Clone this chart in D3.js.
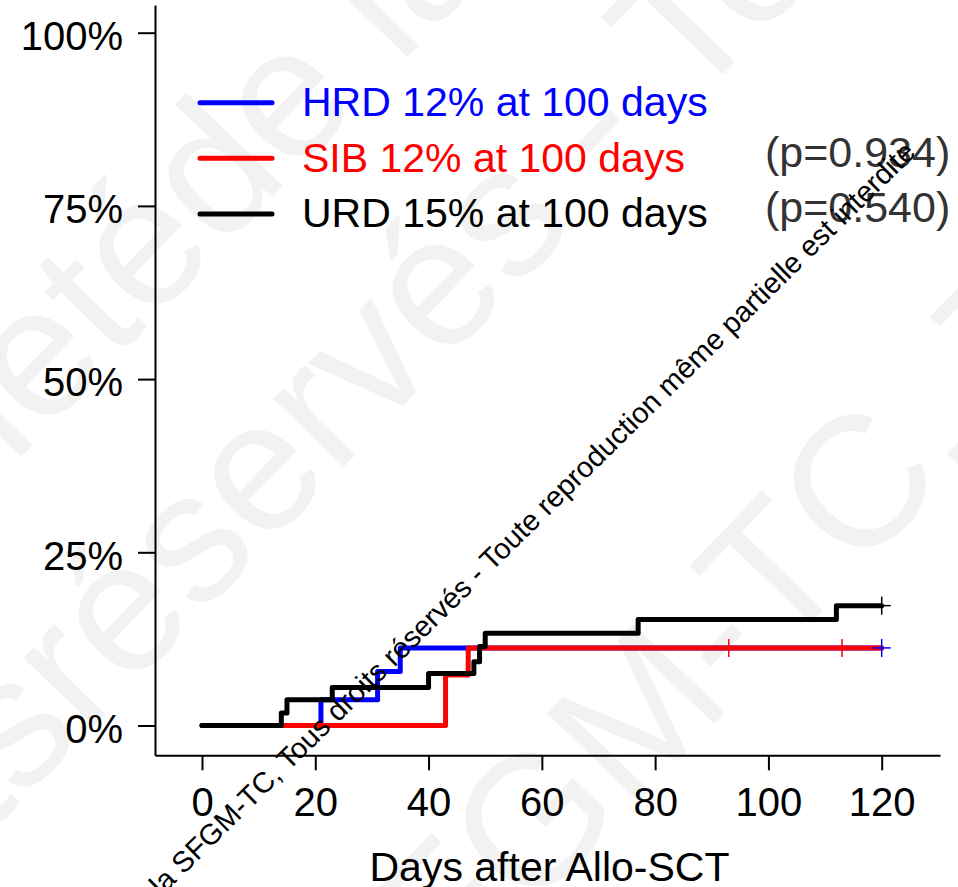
<!DOCTYPE html>
<html>
<head>
<meta charset="utf-8">
<script src="https://cdn.jsdelivr.net/npm/d3@7"></script>
<style>
  body { margin: 0; background: #fff; }
  svg { display: block; }
</style>
</head>
<body>
<div id="chart"></div>
<script>
// tick labels
const xTicks = [0, 20, 40, 60, 80, 100, 120];
const yTicks = [0, 25, 50, 75, 100];

// cumulative incidence (%) step curves
const hrdTimes  = [0, 21, 31, 35, 120];
const hrdValues = [0, 3.7, 7.8, 11.2, 11.2];
const sibTimes  = [0, 43, 47, 120];
const sibValues = [0, 7.3, 11.2, 11.2];
const urdTimes  = [0, 14, 15, 23, 40, 48, 49, 50, 77, 112, 120];
const urdValues = [0, 1.8, 3.7, 5.5, 7.5, 9.2, 11.4, 13.3, 15.3, 17.3, 17.3];

// censoring marks (days)
const hrdCensor = [120];
const sibCensor = [93, 113];
const urdCensor = [120];

const legendLabels = ["HRD 12% at 100 days", "SIB 12% at 100 days", "URD 15% at 100 days"];
const pLabels = ["(p=0.934)", "(p=0.540)"];
const xTitle = "Days after Allo-SCT";

const width = 958, height = 887;
const FONT = "'Liberation Sans', Arial, Helvetica, sans-serif";

const svg = d3.select("#chart").append("svg")
    .attr("width", width)
    .attr("height", height)
    .style("background", "#fff");

// faint background watermark
const wm = svg.append("g")
    .attr("fill", "#f2f2f2")
    .style("font-family", FONT)
    .style("font-size", "185px");

function wmText(x, y, before, after) {
    wm.append("text")
        .attr("transform", "translate(" + x + "," + y + ") rotate(-46)")
        .attr("text-anchor", "end")
        .text(before);
    wm.append("text")
        .attr("transform", "translate(" + x + "," + y + ") rotate(-46)")
        .text(after);
}
wmText(220, 251, "Propriété ", "de la SFGM-TC");
wmText(85, 735, "Tous droits ", "réservés - Toute reproduction");
wmText(364, 1086, "de la ", "SFGM-TC, Tous droits");

// scales
const x = d3.scaleLinear().domain([0, 120]).range([202, 881.7]);
const y = d3.scaleLinear().domain([0, 100]).range([725.5, 32.7]);

// axis lines run a bit past the data range
const xAxisScale = x.copy().domain([-8.3, 130.3]).range([x(-8.3), x(130.3)]);
const yAxisScale = y.copy().domain([-4.3, 104]).range([y(-4.3), y(104)]);

const xAxis = svg.append("g")
    .attr("transform", "translate(0," + y(-4.3) + ")")
    .call(d3.axisBottom(xAxisScale)
        .tickValues(xTicks)
        .tickSize(15)
        .tickSizeOuter(0)
        .tickPadding(17));

const yAxis = svg.append("g")
    .attr("transform", "translate(" + x(-8.3) + ",0)")
    .call(d3.axisLeft(yAxisScale)
        .tickValues(yTicks)
        .tickSize(17)
        .tickSizeOuter(0)
        .tickPadding(15)
        .tickFormat(d => d + "%"));

[xAxis, yAxis].forEach(function (g) {
    g.attr("font-family", FONT).attr("font-size", 40);
    g.select(".domain").attr("stroke", "#000").attr("stroke-width", 2);
    g.selectAll(".tick line").attr("stroke", "#000").attr("stroke-width", 2);
    g.selectAll(".tick text").attr("fill", "#000");
});
yAxis.selectAll(".tick text").attr("dy", "0.42em");

svg.append("text")
    .attr("x", (x(-8.3) + x(130.3)) / 2 + 2)
    .attr("y", 881)
    .attr("text-anchor", "middle")
    .style("font-family", FONT)
    .style("font-size", "41px")
    .text(xTitle);

// curves
function zip(times, values) {
    return times.map((t, i) => ({ t: t, v: values[i] }));
}
const series = [
    { name: "HRD", color: "#0000ff", data: zip(hrdTimes, hrdValues), cens: hrdCensor },
    { name: "SIB", color: "#ff0000", data: zip(sibTimes, sibValues), cens: sibCensor },
    { name: "URD", color: "#000000", data: zip(urdTimes, urdValues), cens: urdCensor }
];

const step = d3.line()
    .x(d => x(d.t))
    .y(d => y(d.v))
    .curve(d3.curveStepAfter);

svg.append("g").selectAll("path")
    .data(series).enter()
    .append("path")
    .attr("d", d => step(d.data))
    .attr("fill", "none")
    .attr("stroke", d => d.color)
    .attr("stroke-width", 5)
    .attr("stroke-linejoin", "round")
    .attr("stroke-linecap", "round");

// value of a step curve at time t
function valueAt(s, t) {
    let v = 0;
    s.data.forEach(function (d) { if (d.t <= t) v = d.v; });
    return v;
}

const marks = [];
[series[1], series[0], series[2]].forEach(function (s) {
    s.cens.forEach(t => marks.push({ t: t, v: valueAt(s, t), color: s.color }));
});
const censor = svg.append("g").selectAll("g")
    .data(marks).enter()
    .append("g")
    .attr("transform", d => "translate(" + x(d.t) + "," + y(d.v) + ")")
    .attr("stroke", d => d.color)
    .attr("stroke-width", 1.5);
censor.append("line").attr("x1", 0).attr("x2", 0).attr("y1", -9).attr("y2", 9);
censor.append("line").attr("x1", -9).attr("x2", 9).attr("y1", 0).attr("y2", 0);

// legend
const legend = svg.append("g").selectAll("g")
    .data(series).enter()
    .append("g")
    .attr("transform", (d, i) => "translate(200," + (102.7 + i * 55.6) + ")");
legend.append("line")
    .attr("x1", 0).attr("x2", 72)
    .attr("stroke", d => d.color)
    .attr("stroke-width", 5)
    .attr("stroke-linecap", "round");
legend.append("text")
    .attr("x", 102)
    .attr("y", 13.5)
    .attr("fill", d => d.color)
    .style("font-family", FONT)
    .style("font-size", "41px")
    .text((d, i) => legendLabels[i]);

svg.append("g").selectAll("text")
    .data(pLabels).enter()
    .append("text")
    .attr("x", 765)
    .attr("y", (d, i) => 166.7 + i * 55)
    .attr("fill", "#333")
    .style("font-family", FONT)
    .style("font-size", "43px")
    .text(d => d);

// copyright line across the chart
svg.append("text")
    .attr("transform", "translate(917,154) rotate(-44.5)")
    .attr("text-anchor", "end")
    .attr("fill", "#000")
    .style("font-family", FONT)
    .style("font-size", "29px")
    .text("© Propriété de la SFGM-TC, Tous droits réservés - Toute reproduction même partielle est interdite");
</script>
</body>
</html>
